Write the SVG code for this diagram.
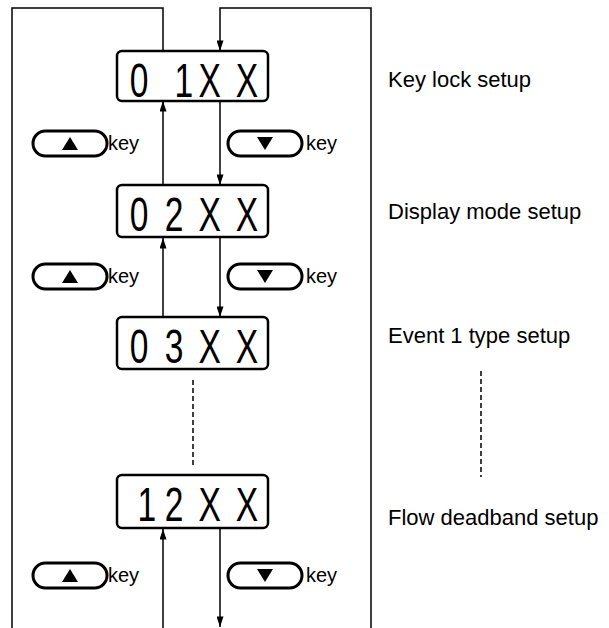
<svg xmlns="http://www.w3.org/2000/svg" width="609" height="628" viewBox="0 0 609 628">
<defs>
<marker id="ah" viewBox="0 0 12 8" refX="12" refY="4" markerWidth="11" markerHeight="7" markerUnits="userSpaceOnUse" orient="auto"><path d="M0,0 L12,4 L0,8 Z" fill="#000"/></marker>
</defs>
<style>
.ln{fill:none;stroke:#000;stroke-width:1.5}
.dash{fill:none;stroke:#000;stroke-width:1.5;stroke-dasharray:5,3}
.box{fill:#fff;stroke:#000;stroke-width:2.5}
.seg{font-family:"Liberation Sans",Arial,sans-serif;font-size:48px;fill:#000;text-anchor:middle}
.btn{fill:#fff;stroke:#000;stroke-width:3}
.key{font-family:"Liberation Sans",Arial,sans-serif;font-size:20px;fill:#000}
.lbl{font-family:"Liberation Sans",Arial,sans-serif;font-size:22px;fill:#000}
</style>
<rect width="609" height="628" fill="#fff"/>
<g id="connectors">
<path class="ln" d="M163,51 V8 H12 V628"/>
<path class="ln" d="M371,628 V8 H220 V51" marker-end="url(#ah)"/>
<line class="ln" x1="163" y1="185" x2="163" y2="101" marker-end="url(#ah)"/>
<line class="ln" x1="220" y1="101" x2="220" y2="185" marker-end="url(#ah)"/>
<line class="ln" x1="163" y1="317" x2="163" y2="238" marker-end="url(#ah)"/>
<line class="ln" x1="220" y1="238" x2="220" y2="317" marker-end="url(#ah)"/>
<line class="dash" x1="193" y1="380" x2="193" y2="468"/>
<line class="ln" x1="163" y1="628" x2="163" y2="529" marker-end="url(#ah)"/>
<line class="ln" x1="220" y1="529" x2="220" y2="627" marker-end="url(#ah)"/>
<line class="dash" x1="481" y1="371" x2="481" y2="477"/>
</g>
<g id="node-01">
<rect class="box" x="117" y="51" width="151" height="50" rx="5"/>
<text class="seg" transform="translate(193,97) scale(0.7,1)" x="-77 -13 24 77" y="0">01XX</text>
</g>
<g id="node-02">
<rect class="box" x="117" y="185" width="151" height="52" rx="5"/>
<text class="seg" transform="translate(193,231) scale(0.7,1)" x="-77 -27 24 77" y="0">02XX</text>
</g>
<g id="node-03">
<rect class="box" x="117" y="317" width="151" height="52" rx="5"/>
<text class="seg" transform="translate(193,363) scale(0.7,1)" x="-77 -27 24 77" y="0">03XX</text>
</g>
<g id="node-12">
<rect class="box" x="117" y="475" width="151" height="53" rx="5"/>
<text class="seg" transform="translate(193,521) scale(0.7,1)" x="-66 -27 24 77" y="0">12XX</text>
</g>
<g id="keys-1">
<rect class="btn" x="33" y="131" width="74" height="25" rx="12.5"/>
<path d="M62,150 L70,137 L78,150 Z"/>
<text class="key" x="108" y="150">key</text>
<rect class="btn" x="228" y="131" width="74" height="25" rx="12.5"/>
<path d="M257,137 L273,137 L265,150 Z"/>
<text class="key" x="306" y="150">key</text>
</g>
<g id="keys-2">
<rect class="btn" x="33" y="264" width="74" height="25" rx="12.5"/>
<path d="M62,283 L70,270 L78,283 Z"/>
<text class="key" x="108" y="283">key</text>
<rect class="btn" x="228" y="264" width="74" height="25" rx="12.5"/>
<path d="M257,270 L273,270 L265,283 Z"/>
<text class="key" x="306" y="283">key</text>
</g>
<g id="keys-4">
<rect class="btn" x="33" y="563" width="74" height="25" rx="12.5"/>
<path d="M62,582 L70,569 L78,582 Z"/>
<text class="key" x="108" y="582">key</text>
<rect class="btn" x="228" y="563" width="74" height="25" rx="12.5"/>
<path d="M257,569 L273,569 L265,582 Z"/>
<text class="key" x="306" y="582">key</text>
</g>
<g id="labels">
<text class="lbl" x="388" y="87">Key lock setup</text>
<text class="lbl" x="388" y="219">Display mode setup</text>
<text class="lbl" x="388" y="343">Event 1 type setup</text>
<text class="lbl" x="388" y="525">Flow deadband setup</text>
</g>
</svg>
